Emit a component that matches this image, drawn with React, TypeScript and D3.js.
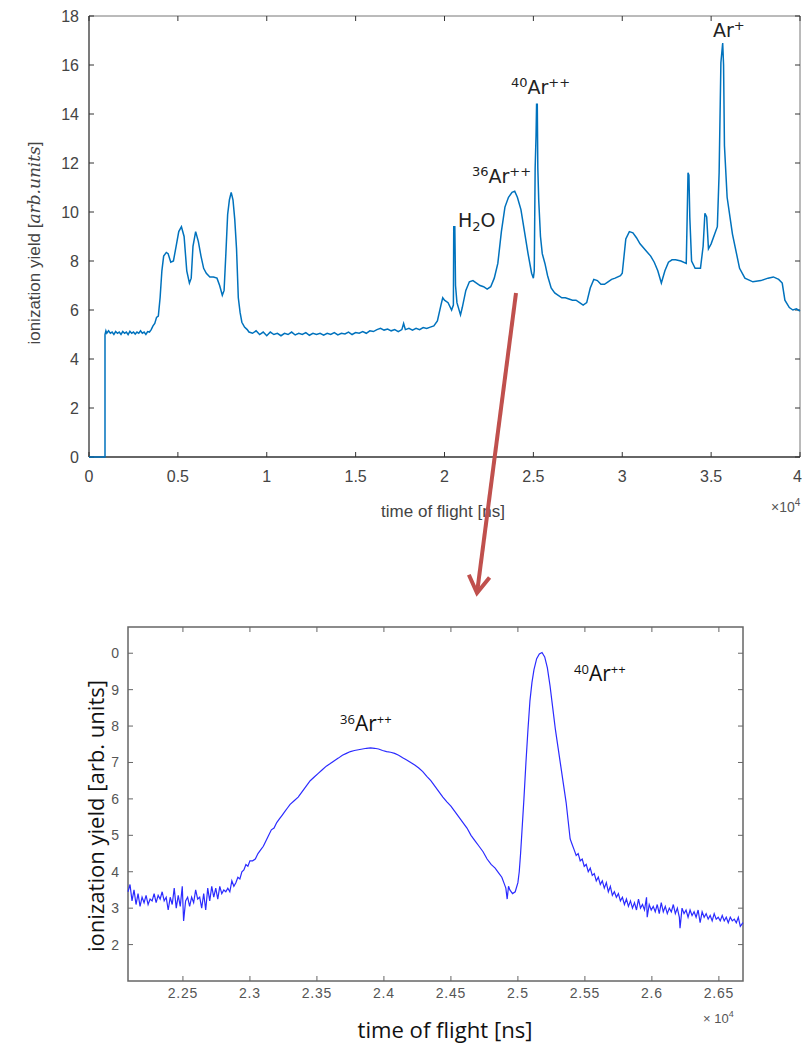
import React from "react";
import * as d3 from "d3";

// ---------- DATA ----------
// Top panel: time of flight (×10^4 ns), ionization yield
const topX = [0,0.09,0.09,0.095,0.1,0.11,0.12,0.13,0.14,0.15,0.16,0.17,0.18,0.19,0.2,0.21,0.22,0.23,0.24,0.25,0.26,0.27,0.28,0.29,0.3,0.31,0.32,0.33,0.34,0.35,0.36,0.37,0.38,0.39,0.4,0.41,0.42,0.435,0.445,0.46,0.475,0.49,0.505,0.52,0.535,0.55,0.565,0.575,0.585,0.6,0.615,0.63,0.645,0.66,0.68,0.7,0.72,0.735,0.75,0.76,0.77,0.78,0.79,0.8,0.81,0.82,0.83,0.84,0.85,0.86,0.875,0.89,0.9,0.92,0.94,0.96,0.98,1.0,1.02,1.04,1.06,1.08,1.1,1.12,1.14,1.16,1.18,1.2,1.22,1.24,1.26,1.28,1.3,1.32,1.34,1.36,1.38,1.4,1.42,1.44,1.46,1.48,1.5,1.52,1.54,1.56,1.58,1.6,1.62,1.64,1.66,1.68,1.7,1.72,1.74,1.76,1.77,1.78,1.8,1.82,1.84,1.86,1.88,1.9,1.92,1.94,1.96,1.98,1.99,2.0,2.02,2.04,2.05,2.052,2.058,2.062,2.07,2.09,2.1,2.12,2.14,2.16,2.18,2.2,2.22,2.24,2.26,2.28,2.3,2.32,2.34,2.36,2.38,2.395,2.41,2.43,2.45,2.47,2.49,2.5,2.505,2.51,2.515,2.518,2.522,2.525,2.53,2.54,2.55,2.565,2.58,2.6,2.62,2.64,2.66,2.68,2.7,2.72,2.74,2.76,2.78,2.8,2.82,2.84,2.86,2.88,2.9,2.92,2.94,2.96,2.99,3.0,3.02,3.04,3.06,3.08,3.1,3.13,3.16,3.18,3.2,3.22,3.24,3.26,3.28,3.3,3.33,3.36,3.365,3.37,3.375,3.38,3.39,3.41,3.44,3.455,3.465,3.475,3.485,3.5,3.52,3.535,3.545,3.555,3.565,3.57,3.575,3.59,3.62,3.66,3.69,3.735,3.78,3.82,3.85,3.88,3.9,3.915,3.94,3.96,3.98,4.0];
const topY = [0,0,5.0,5.15,5.05,5.15,5.05,5.1,5.0,5.12,5.05,5.1,5.0,5.12,5.05,5.1,5.0,5.13,5.05,5.1,5.02,5.1,5.05,5.15,5.05,5.1,5.0,5.12,5.1,5.2,5.35,5.45,5.7,5.75,6.5,7.6,8.2,8.35,8.3,7.95,8.0,8.6,9.2,9.4,9.0,7.6,7.1,7.3,8.6,9.2,8.8,8.2,7.7,7.5,7.35,7.35,7.3,7.0,6.6,6.8,8.3,9.9,10.5,10.8,10.5,9.7,8.5,6.5,5.9,5.5,5.3,5.2,5.1,5.05,5.15,5.0,5.1,4.95,5.1,5.0,5.05,4.95,5.05,5.0,5.1,4.98,5.05,5.0,5.08,4.97,5.05,5.0,5.05,4.97,5.05,5.0,5.08,4.98,5.05,5.02,5.1,5.0,5.08,5.05,5.12,5.05,5.15,5.12,5.2,5.25,5.18,5.22,5.15,5.2,5.12,5.2,5.45,5.2,5.25,5.18,5.25,5.2,5.28,5.25,5.3,5.35,5.55,6.2,6.5,6.4,6.3,6.0,6.2,9.4,9.4,7.0,6.3,5.8,6.1,6.8,7.15,7.2,7.1,7.0,6.95,6.85,6.95,7.3,7.9,9.2,10.2,10.6,10.8,10.85,10.6,10.1,9.2,8.3,7.5,7.3,7.6,11.8,13.1,14.4,14.4,11.8,10.5,9.0,8.3,7.9,7.4,6.9,6.7,6.6,6.5,6.5,6.45,6.4,6.4,6.3,6.2,6.3,6.9,7.25,7.2,7.05,7.05,7.15,7.25,7.3,7.4,7.5,8.9,9.2,9.15,8.95,8.7,8.45,8.2,7.95,7.6,7.1,7.6,7.95,8.05,8.05,8.0,7.9,9.7,11.6,11.5,9.8,8.0,7.7,7.7,8.6,9.95,9.8,8.5,8.7,9.1,9.4,11.6,16.1,16.9,16.0,12.7,10.6,9.1,7.7,7.3,7.15,7.2,7.3,7.35,7.25,7.1,6.4,6.1,6.0,6.05,5.95];

// Bottom panel (zoom on Ar++ peaks)
const botX = [2.209,2.2105,2.212,2.2135,2.215,2.2165,2.218,2.2195,2.221,2.2225,2.224,2.2255,2.227,2.2285,2.23,2.2315,2.233,2.2345,2.236,2.2375,2.239,2.2405,2.242,2.2435,2.245,2.2465,2.248,2.2495,2.2505,2.252,2.2535,2.255,2.2565,2.258,2.2595,2.261,2.2625,2.264,2.2655,2.267,2.2685,2.27,2.2715,2.273,2.2745,2.276,2.2775,2.279,2.2805,2.282,2.2835,2.285,2.2865,2.288,2.2895,2.291,2.2925,2.294,2.2955,2.297,2.2985,2.3,2.302,2.304,2.306,2.308,2.31,2.312,2.314,2.316,2.318,2.32,2.322,2.324,2.326,2.328,2.33,2.333,2.336,2.339,2.342,2.345,2.348,2.351,2.354,2.357,2.36,2.363,2.366,2.369,2.372,2.375,2.378,2.381,2.384,2.387,2.39,2.393,2.396,2.399,2.402,2.405,2.408,2.411,2.414,2.417,2.42,2.423,2.426,2.429,2.432,2.435,2.438,2.441,2.444,2.447,2.45,2.453,2.456,2.459,2.462,2.465,2.468,2.471,2.474,2.477,2.48,2.483,2.486,2.488,2.4895,2.491,2.492,2.493,2.494,2.496,2.498,2.5,2.501,2.502,2.503,2.5045,2.506,2.5075,2.509,2.5105,2.512,2.514,2.516,2.518,2.52,2.522,2.524,2.526,2.528,2.53,2.532,2.534,2.536,2.5375,2.539,2.5405,2.542,2.5435,2.545,2.5465,2.548,2.5495,2.551,2.5525,2.554,2.5555,2.557,2.5585,2.56,2.5615,2.563,2.5645,2.566,2.5675,2.569,2.5705,2.572,2.5735,2.575,2.5765,2.578,2.5795,2.581,2.5825,2.584,2.5855,2.587,2.5885,2.59,2.5915,2.593,2.5945,2.596,2.5965,2.598,2.5995,2.601,2.6025,2.604,2.6055,2.607,2.6085,2.61,2.6115,2.613,2.6145,2.616,2.6175,2.619,2.6205,2.621,2.6225,2.624,2.6255,2.627,2.6285,2.63,2.6315,2.633,2.6345,2.636,2.6375,2.639,2.6405,2.642,2.6435,2.645,2.6465,2.648,2.6495,2.651,2.6525,2.654,2.6555,2.657,2.6585,2.66,2.6615,2.663,2.6645,2.666,2.668];
const botY = [3.45,3.65,3.2,3.5,3.1,3.4,3.05,3.3,3.15,3.35,3.1,3.25,3.2,3.4,3.15,3.35,3.25,3.45,3.2,3.3,2.95,3.3,3.1,3.55,3.0,3.35,3.05,3.6,2.65,3.2,3.3,3.05,3.3,3.15,3.5,3.25,3.3,3.0,3.4,2.95,3.55,3.2,3.6,3.3,3.55,3.25,3.6,3.4,3.5,3.45,3.55,3.45,3.75,3.6,3.7,3.85,3.8,4.0,4.05,4.2,4.15,4.3,4.3,4.35,4.5,4.6,4.7,4.85,5.0,5.15,5.2,5.35,5.45,5.55,5.65,5.75,5.85,5.95,6.05,6.2,6.35,6.5,6.6,6.7,6.8,6.9,6.97,7.05,7.12,7.2,7.25,7.3,7.33,7.35,7.37,7.39,7.4,7.39,7.37,7.33,7.3,7.28,7.25,7.2,7.13,7.07,7.0,6.93,6.85,6.75,6.62,6.5,6.35,6.2,6.05,5.92,5.8,5.65,5.5,5.35,5.2,5.0,4.85,4.7,4.55,4.35,4.2,4.1,3.95,3.85,3.7,3.55,3.25,3.6,3.5,3.4,3.45,3.7,4.0,4.5,5.1,6.0,7.0,7.9,8.7,9.2,9.55,9.85,9.98,10.02,9.9,9.6,9.1,8.5,7.9,7.4,6.9,6.4,5.9,5.4,4.9,4.75,4.6,4.45,4.5,4.3,4.35,4.15,4.2,4.0,4.1,3.9,3.95,3.75,3.85,3.65,3.75,3.55,3.7,3.45,3.6,3.35,3.45,3.3,3.4,3.2,3.3,3.1,3.25,3.05,3.2,3.0,3.15,2.95,3.25,3.0,3.1,2.95,3.3,2.75,3.1,2.95,3.05,2.9,3.1,2.85,3.15,2.9,3.05,2.85,3.0,2.9,3.1,2.85,3.0,2.75,2.45,3.0,2.85,2.95,2.75,2.95,2.8,2.9,2.75,2.95,2.6,2.9,2.75,2.85,2.7,2.8,2.65,2.85,2.7,2.75,2.65,2.8,2.65,2.75,2.6,2.75,2.65,2.7,2.6,2.75,2.5,2.6];

const topXTicks = [0, 0.5, 1, 1.5, 2, 2.5, 3, 3.5, 4];
const topXTickLabels = ["0", "0.5", "1", "1.5", "2", "2.5", "3", "3.5", "4"];
const topYTicks = [0, 2, 4, 6, 8, 10, 12, 14, 16, 18];
const botXTicks = [2.25, 2.3, 2.35, 2.4, 2.45, 2.5, 2.55, 2.6, 2.65];
const botXTickLabels = ["2.25", "2.3", "2.35", "2.4", "2.45", "2.5", "2.55", "2.6", "2.65"];
const botYTicks = [2, 3, 4, 5, 6, 7, 8, 9, 10];
const botYTickLabels = ["2", "3", "4", "5", "6", "7", "8", "9", "0"];

export default function App() {
  // top panel scales
  const tx = d3.scaleLinear().domain([0, 4]).range([89, 800]);
  const ty = d3.scaleLinear().domain([0, 18]).range([457, 16]);
  // bottom panel scales
  const bx = d3.scaleLinear().domain([2.209, 2.668]).range([128, 743]);
  const by = d3.scaleLinear().domain([1, 10.72]).range([981, 627]);

  const topLine = d3.line<number>().x((_, i) => tx(topX[i])).y((d) => ty(d));
  const botLine = d3.line<number>().x((_, i) => bx(botX[i])).y((d) => by(d));

  const tickFont = "'Liberation Sans', Arial, sans-serif";
  const annFont = "'DejaVu Sans', Verdana, sans-serif";
  const calib = "'Open Sans', 'Noto Sans', sans-serif";
  const arrowColor = "#c0504d";

  // arrow geometry
  const a0 = [516, 293];
  const a1 = [477, 593];
  const ang = Math.atan2(a1[1] - a0[1], a1[0] - a0[0]);
  const hl = 20;
  const h1 = [a1[0] - hl * Math.cos(ang - 0.55), a1[1] - hl * Math.sin(ang - 0.55)];
  const h2 = [a1[0] - hl * Math.cos(ang + 0.55), a1[1] - hl * Math.sin(ang + 0.55)];

  return (
    <svg width={802} height={1048} style={{ position: "absolute", left: 0, top: 0, background: "#fff" }}>
      {/* ---------- TOP PANEL ---------- */}
      <line x1={89} y1={16} x2={800} y2={16} stroke="#777" strokeWidth={1} />
      <line x1={800} y1={16} x2={800} y2={457} stroke="#777" strokeWidth={1} />
      <line x1={89} y1={16} x2={89} y2={457} stroke="#333" strokeWidth={1.3} />
      <line x1={89} y1={457} x2={800} y2={457} stroke="#333" strokeWidth={1.3} />
      {topXTicks.map((t, i) => (
        <g key={"tx" + i}>
          <line x1={tx(t)} x2={tx(t)} y1={457} y2={452} stroke="#333" />
          <line x1={tx(t)} x2={tx(t)} y1={16} y2={21} stroke="#333" />
          <text
            x={i === topXTicks.length - 1 ? 802 : tx(t)}
            y={482}
            textAnchor={i === topXTicks.length - 1 ? "end" : "middle"}
            fontFamily={tickFont}
            fontSize={16}
            fill="#444"
          >
            {topXTickLabels[i]}
          </text>
        </g>
      ))}
      {topYTicks.map((t, i) => (
        <g key={"ty" + i}>
          <line x1={89} x2={94} y1={ty(t)} y2={ty(t)} stroke="#333" />
          <line x1={800} x2={795} y1={ty(t)} y2={ty(t)} stroke="#333" />
          <text x={79} y={ty(t) + 6} textAnchor="end" fontFamily={tickFont} fontSize={16} fill="#444">
            {t}
          </text>
        </g>
      ))}
      <path d={topLine(topY) || ""} fill="none" stroke="#0072BD" strokeWidth={1.5} />
      <text x={443} y={517} textAnchor="middle" fontFamily={tickFont} fontSize={17} fill="#444">
        time of flight [ns]
      </text>
      <text x={771} y={512} fontFamily={tickFont} fontSize={14} fill="#555">
        ×10<tspan dy={-6} fontSize={10}>4</tspan>
      </text>
      <text transform="translate(40,243) rotate(-90)" textAnchor="middle" fontFamily={tickFont} fontSize={17} fill="#444">
        ionization yield [<tspan fontFamily="'DejaVu Serif', serif" fontStyle="italic">arb.units</tspan>]
      </text>
      {/* annotations top */}
      <g fontFamily={annFont} fontSize={19} fill="#222">
        <text x={713} y={37}>Ar<tspan dy={-7} fontSize={13}>+</tspan></text>
        <text x={511} y={94}><tspan dy={-7} fontSize={13}>40</tspan><tspan dy={7}>Ar</tspan><tspan dy={-7} fontSize={13}>++</tspan></text>
        <text x={472} y={183}><tspan dy={-7} fontSize={13}>36</tspan><tspan dy={7}>Ar</tspan><tspan dy={-7} fontSize={13}>++</tspan></text>
        <text x={458} y={227}>H<tspan dy={4} fontSize={13}>2</tspan><tspan dy={-4}>O</tspan></text>
      </g>

      {/* ---------- ARROW ---------- */}
      <line x1={a0[0]} y1={a0[1]} x2={a1[0]} y2={a1[1]} stroke={arrowColor} strokeWidth={4} />
      <polyline points={`${h1[0]},${h1[1]} ${a1[0]},${a1[1]} ${h2[0]},${h2[1]}`} fill="none" stroke={arrowColor} strokeWidth={4} strokeLinejoin="miter" />

      {/* ---------- BOTTOM PANEL ---------- */}
      <rect x={128} y={627} width={615} height={354} fill="none" stroke="#666" strokeWidth={1.5} />
      {botXTicks.map((t, i) => (
        <g key={"bx" + i}>
          <line x1={bx(t)} x2={bx(t)} y1={981} y2={976} stroke="#666" />
          <line x1={bx(t)} x2={bx(t)} y1={627} y2={632} stroke="#666" />
          <text x={bx(t)} y={998} textAnchor="middle" fontFamily={tickFont} fontSize={14} letterSpacing={0.8} fill="#555">
            {botXTickLabels[i]}
          </text>
        </g>
      ))}
      {botYTicks.map((t, i) => (
        <g key={"by" + i}>
          <line x1={128} x2={133} y1={by(t)} y2={by(t)} stroke="#666" />
          <line x1={743} x2={738} y1={by(t)} y2={by(t)} stroke="#666" />
          <text x={119} y={by(t) + 5} textAnchor="end" fontFamily={tickFont} fontSize={14} fill="#555">
            {botYTickLabels[i]}
          </text>
        </g>
      ))}
      <path d={botLine(botY) || ""} fill="none" stroke="#2b2bff" strokeWidth={1.2} />
      <text x={703} y={1023} fontFamily={tickFont} fontSize={13} fill="#555">
        × 10<tspan dy={-6} fontSize={9}>4</tspan>
      </text>
      <text x={445} y={1038} textAnchor="middle" fontFamily={calib} fontSize={21} textLength={175} lengthAdjust="spacingAndGlyphs" fill="#111">
        time of flight  [ns]
      </text>
      <text transform="translate(104,816) rotate(-90)" textAnchor="middle" fontFamily={calib} fontSize={21} textLength={272} lengthAdjust="spacingAndGlyphs" fill="#111">
        ionization yield [arb. units]
      </text>
      <g fontFamily={calib} fontSize={21} fill="#111">
        <text x={340} y={731}><tspan dy={-7} fontSize={13}>36</tspan><tspan dy={7}>Ar</tspan><tspan dy={-7} fontSize={13}>++</tspan></text>
        <text x={574} y={681}><tspan dy={-7} fontSize={13}>40</tspan><tspan dy={7}>Ar</tspan><tspan dy={-7} fontSize={13}>++</tspan></text>
      </g>
    </svg>
  );
}
